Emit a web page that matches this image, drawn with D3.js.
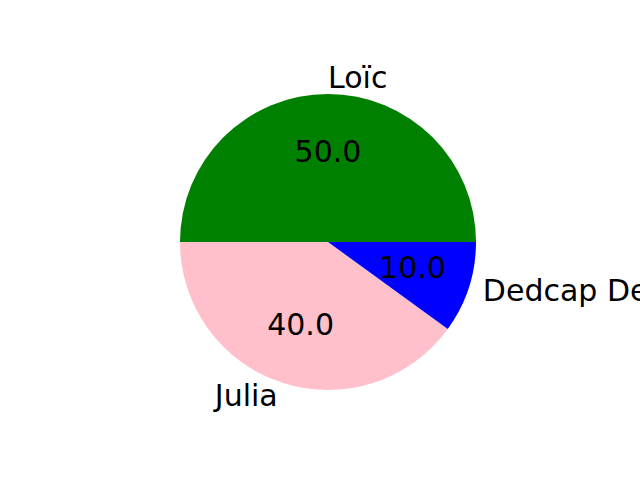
<!DOCTYPE html>
<html>
<head>
<meta charset="utf-8">
<script src="https://cdn.jsdelivr.net/npm/d3@7"></script>
<style>
html,body{margin:0;padding:0;background:#fff;overflow:hidden;}
svg{display:block;}
text{font-family:"DejaVu Sans",sans-serif;}
</style>
</head>
<body>
<script>
const labels = ["Loïc", "Julia", "Dedcap Dedcap"];
const values = [50, 40, 10];
const colors = ["green", "pink", "blue"];

const W = 640, H = 480;
const cx = 328, cy = 242, r = 148;
const fontSize = 30;

const svg = d3.select("body").append("svg").attr("width", W).attr("height", H);
svg.append("rect").attr("width", W).attr("height", H).attr("fill", "#fff");

const data = labels.map((l, i) => ({label: l, value: values[i], color: colors[i]}));

const pie = d3.pie().value(d => d.value).sort(null)
  .startAngle(Math.PI / 2).endAngle(Math.PI / 2 - 2 * Math.PI);
const arcs = pie(data);
const arc = d3.arc().innerRadius(0).outerRadius(r);

const g = svg.append("g").attr("transform", `translate(${cx},${cy})`);
g.selectAll("path").data(arcs).enter().append("path")
  .attr("d", arc)
  .attr("fill", d => d.data.color);

const total = d3.sum(values);
arcs.forEach(a => {
  const mid = (a.startAngle + a.endAngle) / 2; // d3 angle (0 = top, clockwise)
  const theta = Math.PI / 2 - mid;
  const c = Math.cos(theta), s = Math.sin(theta);
  g.append("text")
    .attr("x", 1.1 * r * c)
    .attr("y", -1.1 * r * s + 9)
    .attr("text-anchor", c > -1e-9 ? "start" : "end")
    .style("font-size", fontSize + "px")
    .attr("fill", "black")
    .text(a.data.label);
  g.append("text")
    .attr("x", 0.6 * r * c)
    .attr("y", -0.6 * r * s + 9)
    .attr("text-anchor", "middle")
    .style("font-size", fontSize + "px")
    .attr("fill", "black")
    .text((100 * a.data.value / total).toFixed(1));
});
</script>
</body>
</html>
